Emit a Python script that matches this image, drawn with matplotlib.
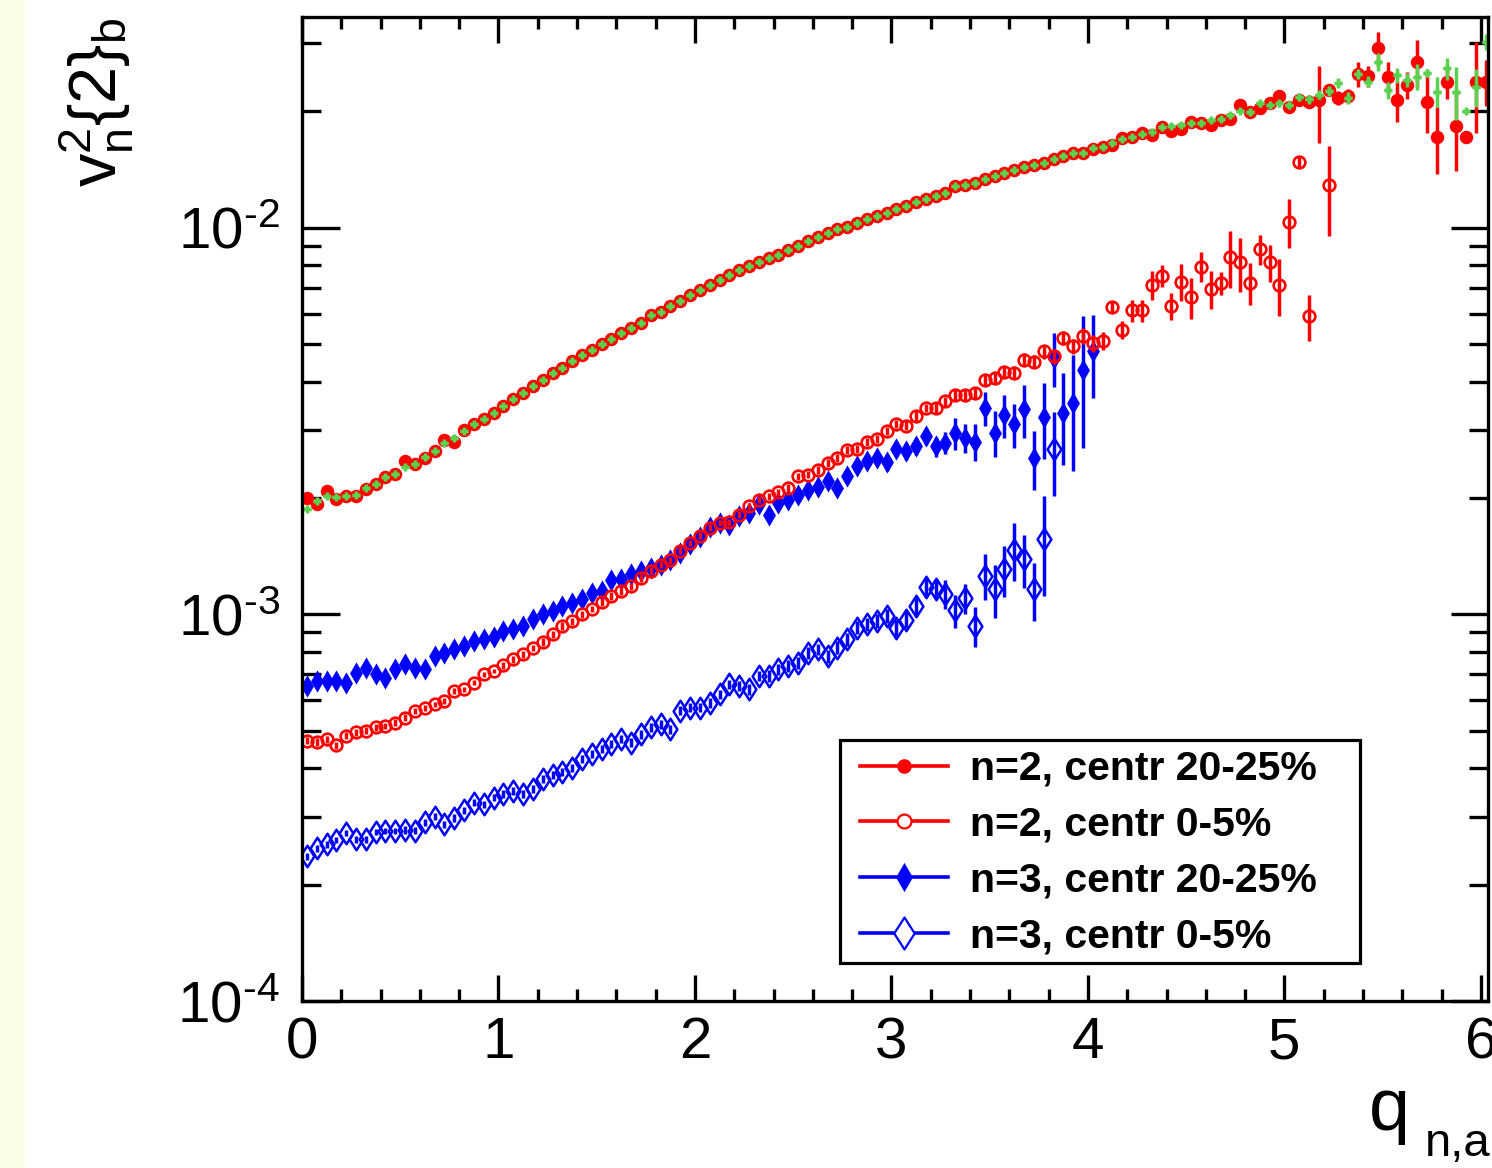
import numpy as np
import matplotlib.pyplot as plt
from matplotlib.lines import Line2D
from matplotlib.path import Path
from matplotlib.patches import Rectangle
from matplotlib.ticker import LogLocator, MultipleLocator, FixedFormatter, FixedLocator, NullFormatter

plt.rcParams['font.family'] = ['Liberation Sans', 'DejaVu Sans']
plt.rcParams['mathtext.fontset'] = 'custom'
plt.rcParams['mathtext.rm'] = 'Liberation Sans'
plt.rcParams['mathtext.it'] = 'Liberation Sans'
plt.rcParams['mathtext.bf'] = 'Liberation Sans:bold'
plt.rcParams['mathtext.default'] = 'regular'

# bin centres of q_{n,a} (0.05 wide bins)
q_bins = np.round(0.025 + 0.05 * np.arange(121), 3)

# v_n^2{2}_b in units of 1e-3
v2_n2_c20 = np.array([
    2.00, 1.93, 2.09, 1.99, 2.02, 2.02, 2.11, 2.17, 2.27, 2.31,
    2.50, 2.45, 2.54, 2.64, 2.83, 2.80, 3.00, 3.11, 3.20, 3.32,
    3.47, 3.61, 3.75, 3.90, 4.04, 4.20, 4.35, 4.53, 4.68, 4.84,
    5.00, 5.17, 5.36, 5.52, 5.68, 5.94, 6.06, 6.27, 6.46, 6.70,
    6.90, 7.12, 7.34, 7.57, 7.80, 7.95, 8.15, 8.35, 8.52, 8.77,
    8.98, 9.22, 9.46, 9.69, 9.92, 10.08, 10.29, 10.53, 10.74, 10.95,
    11.17, 11.40, 11.63, 11.86, 12.10, 12.34, 12.84, 12.92, 13.10, 13.36,
    13.63, 13.90, 14.12, 14.40, 14.54, 14.74, 15.05, 15.35, 15.59, 15.65,
    15.95, 16.17, 16.39, 17.06, 17.16, 17.57, 17.40, 18.25, 17.82, 17.97,
    18.80, 18.69, 18.45, 18.99, 19.18, 20.80, 19.99, 20.40, 21.01, 21.95,
    20.52, 21.42, 21.20, 21.42, 22.70, 21.63, 21.95, 25.00, 24.70, 29.20,
    24.50, 21.42, 23.40, 26.90, 21.20, 17.16, 23.90, 18.30, 17.20, 23.90,
    23.90])
e_n2_c20 = np.array([
    0.03, 0.03, 0.03, 0.03, 0.03, 0.03, 0.03, 0.03, 0.03, 0.03,
    0.03, 0.03, 0.03, 0.03, 0.03, 0.03, 0.04, 0.04, 0.04, 0.04,
    0.04, 0.04, 0.04, 0.04, 0.05, 0.05, 0.05, 0.05, 0.05, 0.05,
    0.05, 0.05, 0.05, 0.05, 0.06, 0.06, 0.06, 0.06, 0.06, 0.06,
    0.06, 0.06, 0.07, 0.07, 0.07, 0.07, 0.07, 0.08, 0.08, 0.08,
    0.08, 0.08, 0.09, 0.09, 0.09, 0.09, 0.10, 0.10, 0.10, 0.10,
    0.11, 0.11, 0.12, 0.12, 0.12, 0.13, 0.13, 0.14, 0.14, 0.15,
    0.15, 0.16, 0.17, 0.17, 0.18, 0.19, 0.20, 0.21, 0.22, 0.23,
    0.24, 0.25, 0.27, 0.28, 0.30, 0.31, 0.33, 0.35, 0.37, 0.39,
    0.41, 0.43, 0.45, 0.47, 0.49, 0.50, 0.50, 0.50, 0.60, 0.60,
    0.70, 0.70, 0.80, 4.80, 0.80, 0.90, 0.90, 1.85, 1.60, 3.00,
    2.30, 2.60, 1.90, 3.80, 3.60, 3.40, 2.40, 4.30, 0.40, 6.30,
    3.20])

# reference measurement drawn on top of the n=2, 20-25% points
v2_ref = np.array([
    1.87, 1.96, 2.02, 2.01, 2.03, 2.04, 2.12, 2.18, 2.27, 2.31,
    2.41, 2.45, 2.56, 2.65, 2.78, 2.86, 2.99, 3.11, 3.20, 3.32,
    3.47, 3.61, 3.75, 3.90, 4.04, 4.20, 4.35, 4.53, 4.68, 4.84,
    5.00, 5.17, 5.36, 5.52, 5.68, 5.94, 6.06, 6.27, 6.46, 6.70,
    6.90, 7.12, 7.34, 7.57, 7.80, 7.95, 8.15, 8.35, 8.52, 8.77,
    8.98, 9.22, 9.46, 9.69, 9.92, 10.08, 10.29, 10.53, 10.74, 10.95,
    11.17, 11.40, 11.63, 11.86, 12.10, 12.34, 12.84, 12.92, 13.10, 13.36,
    13.63, 13.90, 14.12, 14.40, 14.54, 14.74, 15.05, 15.35, 15.59, 15.65,
    16.07, 16.23, 16.56, 16.97, 17.16, 17.50, 17.65, 18.19, 18.33, 18.45,
    18.63, 18.63, 18.99, 19.07, 19.57, 20.10, 19.99, 21.00, 20.80, 21.00,
    20.80, 21.85, 21.50, 22.10, 22.60, 23.70, 21.65, 25.00, 23.90, 26.90,
    22.70, 24.85, 24.10, 24.60, 25.20, 22.50, 25.85, 22.50, 20.00, 23.20,
    30.30])
e_ref = np.array([
    0.02, 0.02, 0.02, 0.02, 0.02, 0.02, 0.02, 0.02, 0.02, 0.02,
    0.02, 0.02, 0.02, 0.02, 0.02, 0.02, 0.02, 0.02, 0.02, 0.02,
    0.03, 0.03, 0.03, 0.03, 0.03, 0.03, 0.03, 0.03, 0.03, 0.03,
    0.03, 0.03, 0.03, 0.03, 0.04, 0.04, 0.04, 0.04, 0.04, 0.04,
    0.04, 0.04, 0.04, 0.04, 0.05, 0.05, 0.05, 0.05, 0.05, 0.05,
    0.05, 0.05, 0.06, 0.06, 0.06, 0.06, 0.06, 0.06, 0.07, 0.07,
    0.07, 0.07, 0.08, 0.08, 0.08, 0.08, 0.09, 0.09, 0.09, 0.10,
    0.10, 0.10, 0.11, 0.11, 0.12, 0.12, 0.13, 0.13, 0.14, 0.15,
    0.15, 0.16, 0.17, 0.18, 0.19, 0.20, 0.21, 0.22, 0.23, 0.24,
    0.25, 0.26, 0.27, 0.28, 0.30, 0.30, 0.35, 0.40, 0.40, 0.45,
    0.50, 0.50, 0.55, 0.60, 0.65, 0.70, 0.80, 0.80, 0.80, 1.50,
    1.20, 1.10, 1.00, 1.90, 0.60, 2.00, 1.70, 3.50, 0.00, 2.60,
    1.50])

v2_n2_c0 = np.array([
    0.471, 0.468, 0.475, 0.459, 0.485, 0.495, 0.500, 0.510, 0.515, 0.525,
    0.541, 0.563, 0.574, 0.585, 0.597, 0.634, 0.640, 0.666, 0.700, 0.714,
    0.738, 0.765, 0.788, 0.820, 0.848, 0.888, 0.933, 0.961, 1.000, 1.034,
    1.076, 1.115, 1.149, 1.184, 1.244, 1.294, 1.346, 1.380, 1.460, 1.530,
    1.600, 1.675, 1.725, 1.730, 1.813, 1.905, 1.980, 2.020, 2.070, 2.125,
    2.277, 2.300, 2.360, 2.465, 2.540, 2.660, 2.680, 2.800, 2.840, 2.980,
    3.110, 3.080, 3.260, 3.420, 3.420, 3.555, 3.700, 3.700, 3.750, 4.030,
    4.090, 4.250, 4.220, 4.560, 4.510, 4.790, 4.650, 5.190, 4.950, 5.260,
    5.030, 5.110, 6.240, 5.450, 6.120, 6.120, 7.120, 7.510, 6.270, 7.250,
    6.620, 7.940, 6.950, 7.200, 8.400, 8.140, 7.220, 8.800, 8.140, 7.120,
    10.38, 14.83, 5.900, np.nan, 12.93])
e_n2_c0 = np.array([
    0.01, 0.01, 0.01, 0.01, 0.01, 0.01, 0.01, 0.01, 0.01, 0.01,
    0.01, 0.01, 0.01, 0.01, 0.01, 0.01, 0.01, 0.01, 0.01, 0.01,
    0.015, 0.015, 0.015, 0.015, 0.02, 0.02, 0.02, 0.02, 0.02, 0.02,
    0.025, 0.025, 0.025, 0.025, 0.03, 0.03, 0.03, 0.03, 0.03, 0.03,
    0.03, 0.035, 0.035, 0.035, 0.04, 0.04, 0.04, 0.045, 0.045, 0.05,
    0.05, 0.05, 0.055, 0.055, 0.06, 0.06, 0.065, 0.065, 0.07, 0.07,
    0.08, 0.08, 0.09, 0.09, 0.10, 0.10, 0.11, 0.12, 0.13, 0.14,
    0.15, 0.15, 0.16, 0.18, 0.18, 0.20, 0.20, 0.22, 0.22, 0.25,
    0.25, 0.28, 0.20, 0.30, 0.40, 0.40, 0.60, 0.50, 0.50, 0.80,
    0.80, 0.70, 0.80, 0.50, 1.40, 1.30, 0.90, 0.80, 0.90, 1.20,
    1.50, 0.50, 0.80, np.nan, 3.40])

v2_n3_c20 = np.array([
    0.653, 0.672, 0.672, 0.672, 0.663, 0.707, 0.728, 0.700, 0.686, 0.721,
    0.743, 0.728, 0.721, 0.780, 0.796, 0.812, 0.828, 0.853, 0.862, 0.876,
    0.906, 0.915, 0.933, 0.971, 1.000, 1.020, 1.050, 1.072, 1.098, 1.138,
    1.149, 1.226, 1.236, 1.269, 1.294, 1.320, 1.346, 1.380, 1.440, 1.520,
    1.590, 1.680, 1.725, 1.708, 1.795, 1.830, 1.925, 1.813, 1.940, 1.980,
    2.040, 2.100, 2.135, 2.210, 2.125, 2.277, 2.420, 2.490, 2.540, 2.475,
    2.680, 2.640, 2.720, 2.890, 2.720, 2.780, 2.950, 2.860, 2.800, 3.420,
    2.950, 3.280, 3.100, 3.390, 2.540, 3.250, 4.600, 3.320, 3.520, 4.300,
    4.790])
e_n3_c20 = np.array([
    0.01, 0.01, 0.01, 0.01, 0.01, 0.01, 0.01, 0.01, 0.01, 0.01,
    0.012, 0.012, 0.012, 0.012, 0.012, 0.015, 0.015, 0.015, 0.015, 0.015,
    0.02, 0.02, 0.02, 0.02, 0.02, 0.02, 0.02, 0.025, 0.025, 0.025,
    0.03, 0.03, 0.03, 0.035, 0.035, 0.035, 0.04, 0.04, 0.04, 0.045,
    0.045, 0.05, 0.05, 0.05, 0.055, 0.055, 0.06, 0.06, 0.065, 0.065,
    0.07, 0.07, 0.08, 0.08, 0.08, 0.09, 0.09, 0.10, 0.11, 0.12,
    0.12, 0.13, 0.14, 0.15, 0.16, 0.18, 0.28, 0.25, 0.30, 0.35,
    0.40, 0.42, 0.40, 0.53, 0.44, 0.72, 0.73, 0.88, 1.17, 1.60,
    1.15])

v2_n3_c0 = np.array([
    0.237, 0.248, 0.254, 0.261, 0.272, 0.262, 0.262, 0.274, 0.276, 0.276,
    0.277, 0.276, 0.290, 0.300, 0.287, 0.298, 0.311, 0.326, 0.323, 0.336,
    0.343, 0.349, 0.343, 0.353, 0.376, 0.384, 0.392, 0.401, 0.423, 0.435,
    0.448, 0.462, 0.476, 0.466, 0.490, 0.510, 0.520, 0.505, 0.563, 0.574,
    0.574, 0.591, 0.621, 0.659, 0.653, 0.640, 0.693, 0.693, 0.721, 0.735,
    0.750, 0.796, 0.812, 0.780, 0.820, 0.862, 0.924, 0.942, 0.961, 0.990,
    0.924, 0.970, 1.050, 1.180, 1.165, 1.130, 1.025, 1.100, 0.933, 1.260,
    1.160, 1.307, 1.472, 1.387, 1.160, 1.569, 2.680])
e_n3_c0 = np.array([
    0.005, 0.005, 0.005, 0.005, 0.005, 0.005, 0.005, 0.005, 0.005, 0.005,
    0.006, 0.006, 0.006, 0.006, 0.006, 0.007, 0.007, 0.007, 0.007, 0.007,
    0.008, 0.008, 0.008, 0.008, 0.009, 0.009, 0.009, 0.010, 0.010, 0.010,
    0.011, 0.011, 0.012, 0.012, 0.013, 0.013, 0.014, 0.014, 0.015, 0.015,
    0.016, 0.017, 0.018, 0.019, 0.020, 0.021, 0.022, 0.023, 0.024, 0.025,
    0.026, 0.027, 0.028, 0.030, 0.031, 0.033, 0.035, 0.037, 0.039, 0.041,
    0.045, 0.05, 0.06, 0.07, 0.07, 0.10, 0.10, 0.10, 0.11, 0.17,
    0.18, 0.20, 0.25, 0.22, 0.20, 0.45, 0.66])

labels = ['n=2, centr 20-25%', 'n=2, centr 0-5%',
          'n=3, centr 20-25%', 'n=3, centr 0-5%']

RED = '#ff0000'
BLUE = '#0000ff'
GREEN = '#5ad250'


def diamond_path(w):
    # tall diamond marker, w is the half width relative to the half height
    return Path([(0, 1), (w, 0), (0, -1), (-w, 0), (0, 1)],
                [Path.MOVETO, Path.LINETO, Path.LINETO, Path.LINETO, Path.CLOSEPOLY])


diamond_full = diamond_path(0.58)
diamond_open = diamond_path(0.64)

fig = plt.figure(figsize=(14.92, 11.68), dpi=100)
fig.patches.append(Rectangle((0, 0), 25 / 1492, 1, transform=fig.transFigure,
                             facecolor='#fbfde6', edgecolor='none', zorder=0))
ax = fig.add_axes([0.2024, 0.1430, 0.7949, 0.8424])


def draw(x, v, e, zorder, **kw):
    n = len(v)
    ax.errorbar(x[:n], v * 1e-3, yerr=e * 1e-3, capsize=0, elinewidth=2.5,
                linestyle='none', zorder=zorder, **kw)


draw(q_bins, v2_n2_c20, e_n2_c20, 3, color=RED, marker='o', ms=9.7, mew=0)
ax.errorbar(q_bins, v2_ref * 1e-3, yerr=e_ref * 1e-3, xerr=0.02, capsize=0,
            elinewidth=2.5, linestyle='none', color=GREEN, marker='+',
            ms=5.5, mew=2.5, zorder=4)
draw(q_bins, v2_n3_c20, e_n3_c20, 5, color=BLUE, marker=diamond_full, ms=16, mew=0)
draw(q_bins, v2_n2_c0, e_n2_c0, 6, color=RED, marker='o', ms=8.4,
     mfc='none', mew=1.9)
draw(q_bins, v2_n3_c0, e_n3_c0, 7, color=BLUE, marker=diamond_open, ms=15.5,
     mfc='none', mew=1.8)

ax.set_yscale('log')
ax.set_xlim(0, 6.036)
ax.set_ylim(1e-4, 0.0351)

ax.xaxis.set_major_locator(MultipleLocator(1))
ax.xaxis.set_minor_locator(MultipleLocator(0.2))
decades = [1e-4, 1e-3, 1e-2]
ax.yaxis.set_major_locator(FixedLocator(decades))
ax.yaxis.set_major_formatter(FixedFormatter([r'10$^{\text{-}4}$',
                                             r'10$^{\text{-}3}$',
                                             r'10$^{\text{-}2}$']))
ax.yaxis.set_minor_locator(LogLocator(base=10, subs=np.arange(2, 10), numticks=20))
ax.yaxis.set_minor_formatter(NullFormatter())

ax.tick_params(which='both', direction='in', top=True, right=True,
               width=2.4, color='black', labelsize=42)
ax.tick_params(axis='x', which='major', length=19, pad=11)
ax.tick_params(axis='x', which='minor', length=8.6)
ax.tick_params(axis='y', which='major', length=27, pad=16)
ax.tick_params(axis='y', which='minor', length=13.5)
for sp in ax.spines.values():
    sp.set_linewidth(2.4)
    sp.set_zorder(10)

fig.text(0.065, 0.9855, r'$v^{2}_{n}\{2\}_{b}$', rotation=90, fontsize=48,
         ha='center', va='top')
# axis title q_{n,a}: main letter and a lowered subscript
fig.text(1410 / 1492, 1 - 1130 / 1168, 'q', fontsize=53, ha='right', va='baseline')
fig.text(1491 / 1492, 1 - 1156 / 1168, 'n,a', fontsize=34, ha='right', va='baseline')

# legend box
ax.add_patch(Rectangle((0.4536, 0.0386), 0.4384, 0.2266, transform=ax.transAxes,
                       facecolor='white', edgecolor='black', linewidth=2.3,
                       zorder=11))
handles = [
    Line2D([], [], color=RED, lw=2.6, marker='o', ms=10.5, mew=0),
    Line2D([], [], color=RED, lw=2.6, marker='o', ms=10, mfc='white', mew=1.6),
    Line2D([], [], color=BLUE, lw=2.6, marker=diamond_full, ms=21, mew=0),
    Line2D([], [], color=BLUE, lw=2.6, marker=diamond_open, ms=23, mfc='white', mew=1.6),
]
leg = ax.legend(handles, labels, loc='upper left', bbox_to_anchor=(0.4705, 0.2551),
                frameon=False, borderpad=0, borderaxespad=0, handlelength=2.15,
                handletextpad=0.54, labelspacing=0.435,
                prop={'weight': 'bold', 'size': 29.5})
leg.set_zorder(12)

fig.savefig('out.png', dpi=100)
